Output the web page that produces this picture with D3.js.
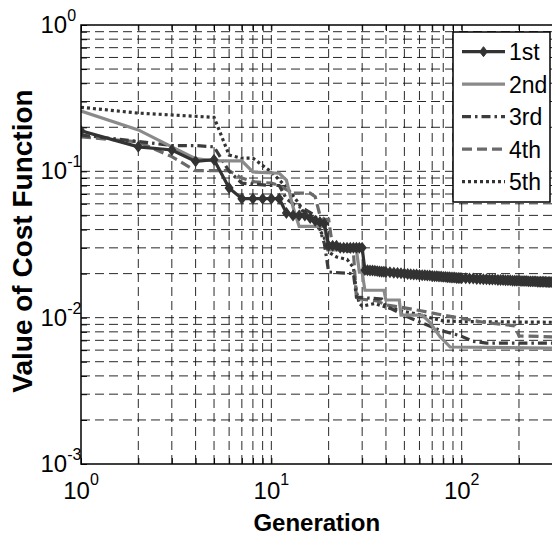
<!DOCTYPE html>
<html>
<head>
<meta charset="utf-8">
<script src="https://cdn.jsdelivr.net/npm/d3@7"></script>
<style>
  body { margin: 0; background: #fff; }
  svg { display: block; font-family: "Liberation Sans", Arial, sans-serif; }
</style>
</head>
<body>
<div id="my_dataviz"></div>
<script>
// data: [generation, value of cost function]
var run1 = [[1,0.189],[2,0.147],[3,0.140],[4,0.117],[5,0.120],[6,0.077],[7,0.065],[8,0.065],[9,0.065],[10,0.065],
  [11,0.065],[12,0.052],[13,0.050],[14,0.050],[15,0.050],[16,0.048],[17,0.046],[18,0.045],[19,0.044],[20,0.031],
  [21,0.031],[22,0.031],[23,0.030],[24,0.030],[25,0.030],[26,0.030],[27,0.030],[28,0.030],[29,0.030],[30,0.030],
  [31,0.0212],[32,0.0211],[33,0.0210],[34,0.0210],[35,0.0209],[36,0.0208],[37,0.0207],[38,0.0206],[39,0.0206],[40,0.0205],
  [42,0.0204],[44,0.0203],[46,0.0202],[48,0.0201],[50,0.0200],[52,0.0199],[54,0.0198],[56,0.0197],[58,0.0197],[60,0.0196],
  [62,0.0195],[64,0.0195],[66,0.0194],[68,0.0194],[70,0.0193],[72,0.0192],[74,0.0192],[76,0.0191],[78,0.0191],[80,0.0190],
  [82,0.0190],[84,0.0189],[86,0.0189],[88,0.0188],[90,0.0188],[92,0.0188],[94,0.0187],[96,0.0187],[98,0.0187],[100,0.0186],
  [105,0.0186],[110,0.0185],[115,0.0185],[120,0.0184],[125,0.0184],[130,0.0183],[135,0.0183],[140,0.0182],[145,0.0182],[150,0.0182],
  [155,0.0181],[160,0.0181],[165,0.0181],[170,0.0180],[175,0.0180],[180,0.0180],[185,0.0179],[190,0.0179],[195,0.0179],[200,0.0179],
  [205,0.0178],[210,0.0178],[215,0.0178],[220,0.0178],[225,0.0177],[230,0.0177],[235,0.0177],[240,0.0177],[245,0.0177],[250,0.0176],
  [255,0.0176],[260,0.0176],[265,0.0176],[270,0.0176],[275,0.0176],[280,0.0175],[285,0.0175],[290,0.0175],[295,0.0175],[300,0.0175]];

var run2 = [[1,0.258],[2,0.192],[3,0.147],[4,0.122],[5,0.118],[7,0.118],[8,0.099],[11,0.097],[12,0.087],[13,0.057],
  [14,0.042],[19,0.042],[20,0.029],[28,0.029],[29,0.0205],[30,0.0205],[31,0.0154],[39,0.0154],[40,0.0132],[47,0.0132],
  [48,0.0104],[62,0.0104],[68,0.0093],[77,0.0074],[87,0.0063],[300,0.0062]];

var run3 = [[1,0.177],[2,0.160],[3,0.150],[4,0.150],[5,0.147],[6,0.100],[7,0.083],[10,0.080],[11,0.080],[12,0.065],
  [13,0.060],[15,0.055],[17,0.050],[18,0.040],[19,0.032],[20,0.0205],[27,0.020],[28,0.0138],[38,0.0134],[40,0.0120],
  [54,0.0099],[77,0.0082],[99,0.0075],[114,0.0069],[135,0.0067],[300,0.0067]];

var run4 = [[1,0.172],[2,0.159],[3,0.126],[4,0.101],[6,0.101],[7,0.090],[8,0.085],[10,0.083],[11,0.080],[12,0.075],
  [13,0.071],[16,0.071],[17,0.067],[18,0.050],[19,0.047],[20,0.047],[21,0.030],[27,0.028],[28,0.0135],[36,0.0130],
  [40,0.0122],[48,0.0118],[60,0.0112],[80,0.0104],[100,0.0099],[130,0.0093],[190,0.0088],[200,0.0075],[300,0.0074]];

var run5 = [[1,0.274],[2,0.250],[5,0.234],[6,0.129],[7,0.123],[8,0.123],[10,0.099],[12,0.078],[14,0.060],[15,0.050],
  [17,0.045],[19,0.035],[20,0.028],[22,0.026],[25,0.025],[27,0.022],[28,0.015],[29,0.0125],[30,0.0120],[35,0.0125],
  [40,0.0118],[50,0.0110],[60,0.0105],[70,0.0099],[80,0.0095],[100,0.0094],[300,0.0093]];

var seriesNames = ["1st", "2nd", "3rd", "4th", "5th"];
var xTickExp = [0, 1, 2];
var yTickExp = [0, -1, -2, -3];

var margin = {top: 25, left: 81, bottom: 464, right: 552.5},
    width = 552, height = 535;

var svg = d3.select("#my_dataviz")
  .append("svg")
    .attr("width", width)
    .attr("height", height);

var x = d3.scaleLog().domain([1, 300]).range([margin.left, margin.right]);
var y = d3.scaleLog().domain([1e-3, 1]).range([margin.bottom, margin.top]);

// grid values: every major and minor log tick
var xGrid = [], yGrid = [];
[1, 10, 100].forEach(function(d) { for (var k = 1; k < 10; k++) if (d * k <= 200) xGrid.push(d * k); });
[1e-3, 1e-2, 1e-1].forEach(function(d) { for (var k = 1; k < 10; k++) yGrid.push(d * k); });
yGrid.push(1);

svg.append("clipPath").attr("id", "plotclip")
  .append("rect").attr("x", margin.left).attr("y", margin.top)
  .attr("width", margin.right - margin.left).attr("height", margin.bottom - margin.top);

var grid = svg.append("g").attr("stroke", "#111").attr("stroke-width", 0.9).attr("stroke-dasharray", "9,5");
grid.selectAll(".vg").data(xGrid.filter(function(d) { return d > 1; })).enter().append("line")
  .attr("x1", function(d) { return x(d); }).attr("x2", function(d) { return x(d); })
  .attr("y1", margin.bottom).attr("y2", margin.top);
grid.selectAll(".hg").data(yGrid.filter(function(d) { return d > 1e-3 && d < 1; })).enter().append("line")
  .attr("y1", function(d) { return y(d); }).attr("y2", function(d) { return y(d); })
  .attr("x1", margin.left).attr("x2", margin.right);

// tick marks pointing inward, on all visible sides
svg.append("g").attr("transform", "translate(0," + margin.bottom + ")")
  .call(d3.axisBottom(x).tickValues(xGrid).tickSize(-6).tickFormat(""))
  .call(function(g) { g.select(".domain").remove(); });
svg.append("g").attr("transform", "translate(0," + margin.top + ")")
  .call(d3.axisTop(x).tickValues(xGrid).tickSize(-6).tickFormat(""))
  .call(function(g) { g.select(".domain").remove(); });
svg.append("g").attr("transform", "translate(" + margin.left + ",0)")
  .call(d3.axisLeft(y).tickValues(yGrid).tickSize(-6).tickFormat(""))
  .call(function(g) { g.select(".domain").remove(); });

// lines
var line = d3.line()
  .x(function(d) { return x(d[0]); })
  .y(function(d) { return y(d[1]); });

var styles = [
  { data: run1, color: "#333333", dash: null },
  { data: run2, color: "#8a8a8a", dash: null },
  { data: run3, color: "#3c3c3c", dash: "9,4,2.5,4" },
  { data: run4, color: "#6a6a6a", dash: "10,5" },
  { data: run5, color: "#333333", dash: "3,3" }
];

var plot = svg.append("g").attr("clip-path", "url(#plotclip)");
styles.slice().reverse().forEach(function(s) {
  plot.append("path")
    .datum(s.data)
    .attr("fill", "none")
    .attr("stroke", s.color)
    .attr("stroke-width", 3.2)
    .attr("stroke-dasharray", s.dash)
    .attr("d", line);
});

var diamond = "M0,-5L3.8,0L0,5L-3.8,0Z";
plot.selectAll(".mk").data(run1).enter().append("path")
  .attr("d", diamond)
  .attr("fill", "#333")
  .attr("stroke", "#333")
  .attr("stroke-width", 1.2)
  .attr("transform", function(d) { return "translate(" + x(d[0]) + "," + y(d[1]) + ")"; });

// axes box
svg.append("path")
  .attr("d", "M" + margin.right + "," + margin.top + "H" + margin.left + "V" + margin.bottom + "H" + margin.right)
  .attr("fill", "none").attr("stroke", "#000").attr("stroke-width", 1.5);

// tick labels 10^k
xTickExp.forEach(function(e) {
  var t = svg.append("text")
    .attr("x", x(Math.pow(10, e))).attr("y", 499)
    .attr("text-anchor", "middle").attr("font-size", 24).attr("fill", "#000");
  t.append("tspan").text("10");
  t.append("tspan").attr("font-size", 16).attr("dy", -14).text(e);
});
yTickExp.forEach(function(e) {
  var t = svg.append("text")
    .attr("x", 40.5).attr("y", y(Math.pow(10, e)) + 8)
    .attr("font-size", 24).attr("fill", "#000");
  t.append("tspan").text("10");
  t.append("tspan").attr("font-size", 16).attr("dy", -12).text(e === 0 ? "0" : "-" + (-e));
});

// axis titles
svg.append("text")
  .attr("x", (margin.left + margin.right) / 2).attr("y", 531)
  .attr("text-anchor", "middle").attr("font-size", 24).attr("font-weight", "bold")
  .text("Generation");
svg.append("text")
  .attr("transform", "translate(32,241) rotate(-90)")
  .attr("text-anchor", "middle").attr("font-size", 28).attr("font-weight", "bold")
  .text("Value of Cost Function");

// legend
var lg = svg.append("g");
lg.append("rect").attr("x", 453).attr("y", 32).attr("width", 97).attr("height", 170)
  .attr("fill", "#fff").attr("stroke", "#000").attr("stroke-width", 1.5);
var rowY = d3.scalePoint().domain(seriesNames).range([51.7, 181.7]);
seriesNames.forEach(function(name, i) {
  var s = styles[i], cy = rowY(name);
  lg.append("line").attr("x1", 462).attr("x2", 505).attr("y1", cy).attr("y2", cy)
    .attr("stroke", s.color).attr("stroke-width", 3.2).attr("stroke-dasharray", s.dash);
  if (i === 0) {
    lg.append("path").attr("d", diamond).attr("fill", "#333").attr("stroke", "#333")
      .attr("transform", "translate(483.5," + cy + ")");
  }
  lg.append("text").attr("x", 509).attr("y", cy + 8.5).attr("font-size", 23).text(name);
});
</script>
</body>
</html>
